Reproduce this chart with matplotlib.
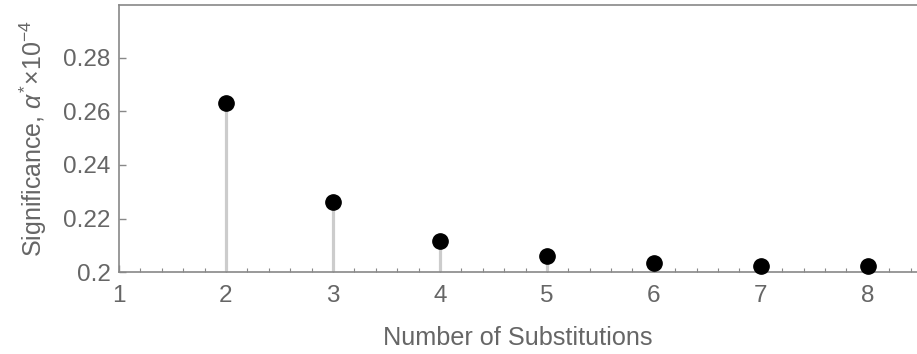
"""
Stem plot: significance threshold vs number of substitutions.
"""
import matplotlib
matplotlib.use('Agg')
import matplotlib.pyplot as plt
from matplotlib.ticker import MultipleLocator

plt.rcParams['font.family'] = ['Liberation Sans', 'DejaVu Sans']
plt.rcParams['mathtext.fontset'] = 'custom'
plt.rcParams['mathtext.rm'] = 'Liberation Sans'
plt.rcParams['mathtext.it'] = 'Liberation Sans:italic'

# data
substitutions = [2, 3, 4, 5, 6, 7, 8]
significance = [0.2632, 0.2262, 0.2116, 0.2060, 0.2035, 0.2022, 0.2022]
y_ticks = [0.2, 0.22, 0.24, 0.26, 0.28]
y_tick_labels = ['0.2', '0.22', '0.24', '0.26', '0.28']

TEXT = '#666666'
SPINE = '#888888'

fig = plt.figure(figsize=(9.17, 3.54), dpi=100)
ax = fig.add_axes([0.1298, 0.2316, 0.8702, 0.7543])

ax.vlines(substitutions, 0.2, significance, color='#cccccc', linewidth=2.3, zorder=2)
ax.plot(substitutions, significance, 'o', color='black', markersize=11, zorder=3,
        clip_on=False)

ax.set_xlim(1, 8.46)
ax.set_ylim(0.2, 0.2998)
ax.set_xticks(range(1, 9))
ax.xaxis.set_minor_locator(MultipleLocator(0.2))
ax.set_yticks(y_ticks)
ax.set_yticklabels(y_tick_labels)

ax.tick_params(axis='both', which='both', direction='in', colors=SPINE,
               labelcolor=TEXT, labelsize=17.5)
ax.tick_params(axis='x', which='major', length=5, width=1, pad=9)
ax.tick_params(axis='x', which='minor', length=3, width=0.8)
ax.tick_params(axis='y', which='major', length=5, width=1, pad=6)

for side in ['left', 'bottom', 'top']:
    ax.spines[side].set_color(SPINE)
    ax.spines[side].set_linewidth(1.2)
ax.spines['right'].set_visible(False)

ax.set_xlabel('Number of Substitutions', color=TEXT, fontsize=18.2, labelpad=14)
ax.set_ylabel(r'Significance, $\alpha^{*}\!\times\!10^{-4}$', color=TEXT,
              fontsize=18, labelpad=10)

fig.savefig('out.png', dpi=100, facecolor='white')
plt.close(fig)
